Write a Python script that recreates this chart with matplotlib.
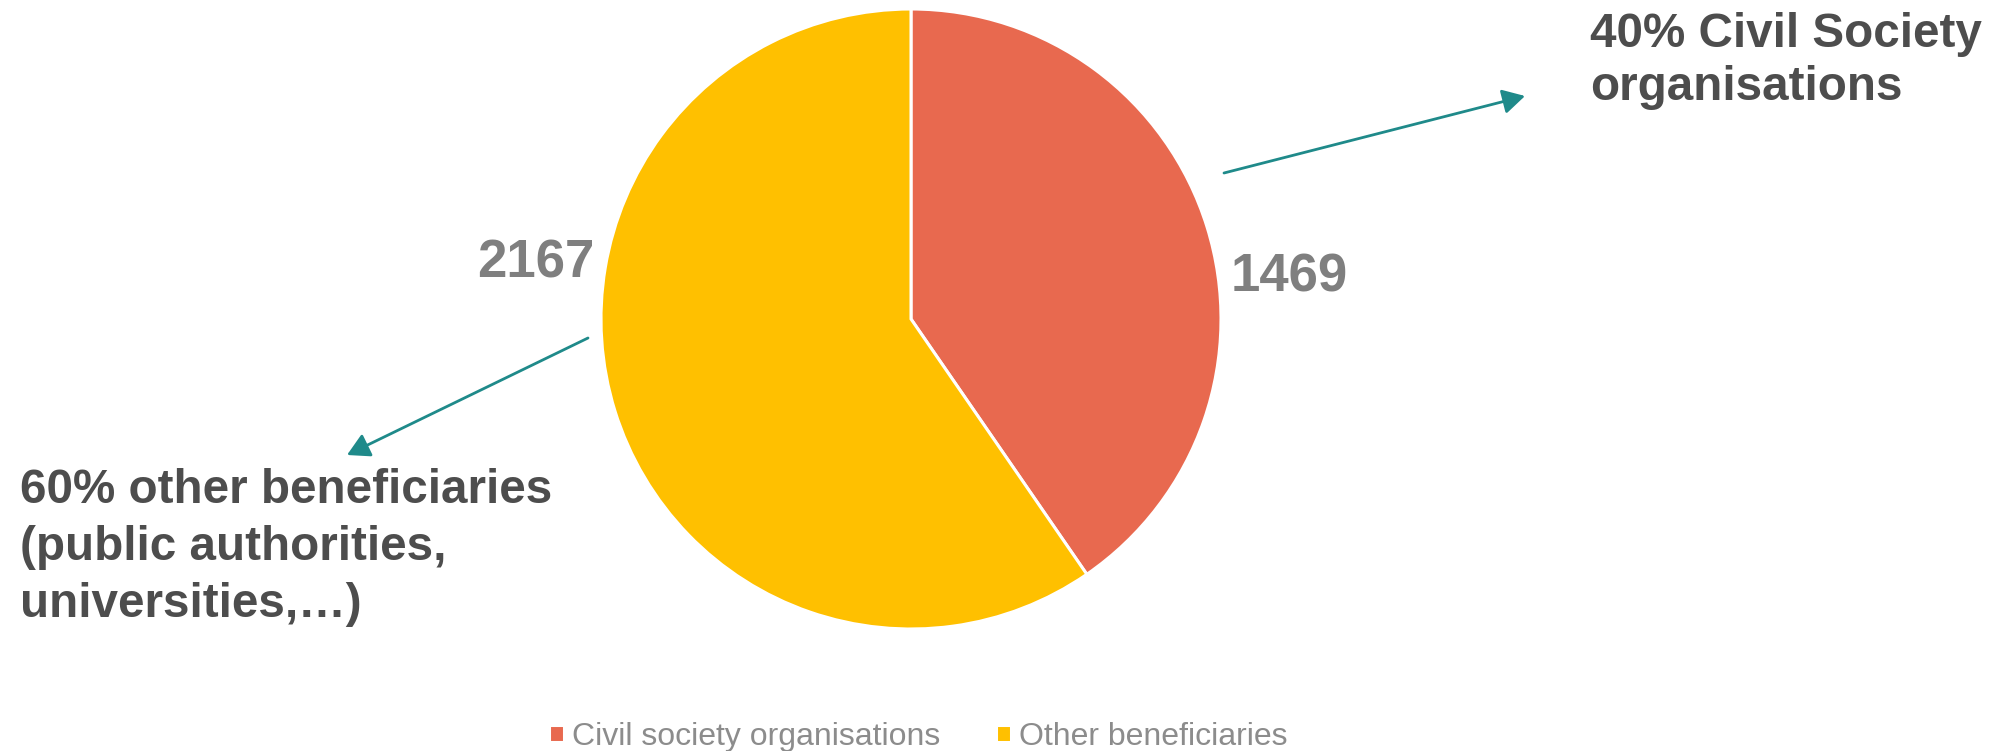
import matplotlib
matplotlib.use("Agg")
import matplotlib.pyplot as plt
from matplotlib.patches import FancyArrowPatch

# ---- data ----
categories = ["Civil society organisations", "Other beneficiaries"]
values = [1469, 2167]
colors = ["#E8694F", "#FFC000"]
callout_civil = ["40% Civil Society", "organisations"]
callout_other = ["60% other beneficiaries", "(public authorities,", "universities,\u2026)"]

W, H = 2000, 751
plt.rcParams['font.family'] = ['Liberation Sans', 'DejaVu Sans']

fig = plt.figure(figsize=(W / 100, H / 100), dpi=100)
ax = fig.add_axes([0, 0, 1, 1])


def Y(py):
    return H - py


wedges, _ = ax.pie(values, colors=colors, startangle=90, counterclock=False,
                   center=(911, Y(319)), radius=310,
                   wedgeprops=dict(edgecolor="white", linewidth=2.2))
ax.set_xlim(0, W)
ax.set_ylim(0, H)
ax.set_aspect("auto")
ax.axis("off")

# value labels
label_color = "#7F7F7F"
ax.text(1231, Y(291), str(values[0]), fontsize=38, fontweight="bold",
        color=label_color, ha="left", va="baseline")
ax.text(477, Y(278), str(values[1]), fontsize=38, fontweight="bold",
        color=label_color, ha="left", va="baseline")

# callouts
txt_color = "#4D4D4D"
for line, base in zip(callout_civil, [47, 100]):
    ax.text(1590, Y(base), line, fontsize=34.3, fontweight="bold",
            color=txt_color, ha="left", va="baseline")
for line, base in zip(callout_other, [503, 560, 617]):
    ax.text(20, Y(base), line, fontsize=34.3, fontweight="bold",
            color=txt_color, ha="left", va="baseline")

# arrows
arrow_color = "#1F8A8A"
for (x0, y0), (x1, y1) in [((1224, 173), (1525, 96)), ((588, 338), (347, 455))]:
    ax.add_patch(FancyArrowPatch((x0, Y(y0)), (x1, Y(y1)),
                                 arrowstyle="-|>,head_length=9,head_width=5",
                                 mutation_scale=1.5, color=arrow_color,
                                 linewidth=2.0, shrinkA=0, shrinkB=0))

# legend
leg = fig.legend(wedges, categories, loc="center",
                 bbox_to_anchor=(918 / W, (H - 737) / H),
                 ncol=2, frameon=False, fontsize=23,
                 handlelength=0.48, handleheight=0.45, handletextpad=0.24,
                 columnspacing=1.75, borderpad=0, borderaxespad=0)
for t in leg.get_texts():
    t.set_color("#8C8C8C")

fig.savefig("out.png", dpi=100, facecolor="white")
